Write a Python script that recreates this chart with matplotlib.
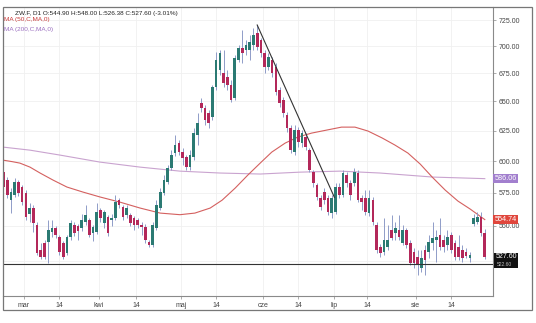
import numpy as np
import pandas as pd
import matplotlib
matplotlib.use("Agg")
import matplotlib.pyplot as plt
from matplotlib.patches import Rectangle
from matplotlib.ticker import FixedLocator, FuncFormatter, NullLocator

# ---- data -------------------------------------------------------------
start_date = "2024-02-22"
holidays = ["2024-03-29", "2024-05-27", "2024-06-19", "2024-07-04"]

opens = [591.2, 584.9, 569.4, 573.3, 583.4, 579.5, 574.8, 558.8, 563.4, 550.6,
         532.4, 537.5, 538.2, 545.5, 548.4, 541.8, 537.5, 530.3, 541.8, 550.6,
         549.9, 548.4, 552.9, 554.3, 544.8, 545.5, 561.8, 552.1, 556.6, 554.3,
         555.8, 569.4, 564.1, 558.1, 558.1, 555.8, 554.3, 550.6, 549.2, 538.2,
         536.0, 548.4, 563.4, 574.8, 583.4, 594.4, 606.5, 614.7, 607.3, 603.2,
         595.2, 603.2, 621.3, 648.6, 644.2, 639.9, 636.5, 662.7, 677.9, 675.2,
         671.6, 664.5, 653.0, 687.1, 698.3, 696.4, 696.4, 701.1, 712.4, 705.8,
         693.6, 680.7, 687.1, 680.7, 660.0, 651.2, 638.2, 627.2, 607.3, 625.5,
         614.7, 619.7, 608.9, 591.2, 581.0, 571.0, 575.6, 571.0, 559.6, 560.3,
         579.5, 573.3, 588.9, 582.6, 582.6, 590.5, 571.0, 571.0, 559.6, 569.4,
         550.6, 534.6, 531.0, 534.6, 546.9, 544.8, 546.9, 537.5, 546.9, 537.5,
         531.0, 527.5, 519.7, 532.4, 531.0, 537.5, 539.6, 543.3, 539.6, 536.0,
         543.3, 537.5, 534.6, 532.4, 531.0, 526.8, 551.4, 552.9, 556.6, 544.9]
highs = [600.8, 587.3, 578.7, 586.6, 584.9, 581.0, 577.1, 567.2, 565.6, 552.9,
         537.5, 539.6, 554.3, 554.3, 549.9, 543.3, 538.9, 543.3, 554.3, 552.9,
         551.4, 558.8, 565.6, 555.8, 550.6, 567.2, 563.4, 561.8, 558.1, 558.8,
         573.3, 571.0, 565.6, 565.6, 559.6, 557.3, 555.8, 552.9, 551.4, 539.6,
         552.9, 569.4, 578.7, 588.9, 596.8, 608.9, 621.3, 617.2, 610.5, 604.9,
         608.9, 627.2, 640.0, 653.0, 646.9, 642.5, 664.5, 694.7, 696.4, 696.4,
         677.9, 668.9, 691.8, 701.1, 715.3, 705.8, 710.5, 717.3, 720.2, 707.7,
         696.4, 693.6, 689.9, 684.4, 662.7, 653.9, 640.8, 629.7, 629.7, 628.0,
         625.5, 623.0, 610.5, 592.8, 582.6, 573.3, 578.7, 573.3, 573.3, 582.6,
         582.6, 592.8, 591.2, 584.9, 594.4, 592.8, 573.3, 577.1, 577.1, 571.8,
         552.9, 536.8, 555.8, 550.6, 558.1, 552.9, 558.1, 550.6, 548.4, 539.6,
         533.9, 532.4, 532.4, 536.0, 543.3, 552.9, 546.9, 555.8, 543.3, 546.9,
         545.5, 539.6, 543.3, 536.0, 533.9, 531.0, 558.8, 560.3, 560.3, 548.0]
lows = [577.1, 571.0, 559.6, 571.8, 572.5, 565.6, 554.3, 552.9, 545.5, 528.9,
        526.0, 526.0, 523.2, 541.8, 541.1, 528.9, 526.0, 528.9, 539.6, 542.6,
        539.6, 546.2, 550.6, 541.8, 538.9, 544.0, 552.9, 548.4, 542.6, 549.9,
        554.3, 563.4, 554.3, 555.8, 549.9, 546.9, 548.4, 543.3, 537.5, 534.6,
        534.6, 546.9, 561.8, 573.3, 581.8, 592.8, 604.0, 604.9, 596.8, 592.8,
        592.8, 600.8, 613.1, 640.8, 629.7, 627.2, 633.9, 660.0, 673.4, 662.7,
        660.0, 649.5, 651.2, 685.3, 684.4, 691.8, 687.1, 696.4, 696.4, 689.9,
        675.2, 677.9, 671.6, 655.6, 645.1, 636.5, 623.8, 606.5, 604.9, 611.4,
        611.4, 608.9, 591.2, 579.5, 569.4, 561.8, 566.4, 558.1, 555.8, 558.8,
        571.0, 571.8, 579.5, 569.4, 580.2, 567.9, 561.8, 558.1, 557.3, 550.6,
        530.3, 527.5, 528.9, 532.4, 539.6, 539.6, 539.6, 536.0, 533.9, 521.8,
        519.7, 515.0, 517.0, 515.0, 526.8, 532.4, 524.0, 532.4, 531.0, 532.4,
        530.3, 525.3, 525.3, 524.0, 526.8, 524.0, 549.9, 551.4, 542.6, 526.38]
closes = [579.5, 573.3, 575.6, 583.4, 574.8, 567.9, 556.6, 563.4, 552.1, 530.3,
          527.5, 527.5, 546.9, 548.4, 543.3, 531.0, 527.5, 541.8, 552.1, 544.8,
          546.2, 554.3, 558.1, 543.3, 549.2, 560.3, 555.8, 560.3, 544.8, 555.8,
          567.9, 565.6, 556.6, 563.4, 552.1, 550.6, 550.6, 549.2, 539.6, 536.0,
          550.6, 565.6, 575.6, 584.9, 594.4, 604.9, 613.1, 607.3, 602.4, 595.2,
          604.9, 623.0, 631.4, 644.2, 633.9, 631.4, 662.7, 687.1, 693.6, 666.2,
          664.5, 651.2, 689.0, 698.3, 693.6, 701.1, 703.9, 710.5, 699.2, 693.6,
          680.7, 689.9, 675.2, 658.2, 648.6, 639.9, 627.2, 608.9, 625.5, 615.5,
          623.0, 611.4, 592.8, 582.6, 571.8, 564.1, 569.4, 560.3, 571.0, 579.5,
          573.3, 590.5, 582.6, 573.3, 591.2, 569.4, 567.9, 560.3, 571.0, 552.9,
          532.4, 530.3, 539.6, 539.6, 541.1, 548.4, 541.8, 546.9, 536.0, 523.2,
          523.2, 521.8, 526.8, 525.3, 538.2, 541.1, 541.8, 534.6, 534.6, 541.8,
          532.4, 527.5, 527.5, 526.8, 528.2, 528.9, 555.8, 556.6, 544.8, 527.6]

# moving averages, sampled along the session axis
ma50_pos = [-0.13, 2.3, 4.4, 7.1, 9.8, 13.3, 17.0, 21.3, 25.9, 31.2, 36.6, 42.0,
            47.3, 51.3, 55.4, 58.6, 62.1, 65.5, 68.8, 71.9, 75.5, 78.9, 82.6,
            86.6, 90.6, 94.2, 97.7, 101.5, 104.9, 108.4, 111.7, 114.9, 118.4,
            121.8, 125.1, 129.0]
ma50_val = [600.8, 599.6, 598.4, 595.2, 590.5, 584.9, 579.5, 575.6, 571.8, 567.9,
            563.4, 559.6, 558.4, 559.6, 563.4, 569.4, 578.7, 588.9, 598.4, 607.3,
            614.7, 619.7, 623.0, 625.5, 628.0, 628.0, 624.7, 618.9, 613.1, 606.5,
            597.6, 587.3, 577.1, 568.7, 562.6, 554.74]
ma200_pos = [-0.13, 7.1, 15.1, 25.9, 36.6, 47.3, 58.0, 68.8, 79.5, 90.2, 100.9,
             115.1, 129.0]
ma200_val = [611.4, 608.9, 604.9, 599.2, 595.2, 592.0, 590.5, 589.7, 591.2, 592.0,
             590.5, 587.3, 586.06]

trend_pos = [68.0, 88.7]
trend_val = [720.2, 571.5]
support_level = 522.60

grid_prices = [525, 550, 575, 600, 625, 650, 675, 700, 725]
price_ticks = [550, 575, 600, 625, 650, 675, 700, 725]
tick_dates = ["2024-03-01", "2024-03-14", "2024-04-01", "2024-04-14",
              "2024-05-01", "2024-05-14", "2024-06-01", "2024-06-14",
              "2024-07-01", "2024-07-14", "2024-08-01", "2024-08-14"]
tick_names = ["mar", "14", "kwi", "14", "maj", "14", "cze", "14",
              "lip", "14", "sie", "14"]

header = "ZW.F, D1 O:544.90 H:548.00 L:526.38 C:527.60 (-3.01%)"
ma50_name = "MA (50,C,MA,0)"
ma200_name = "MA (200,C,MA,0)"

# ---- styling ------------------------------------------------------------
UP = "#2b7a73"
DOWN = "#b3285a"
WICK = "#8f9cc8"
MA50_C = "#d4605f"
MA200_C = "#c9a3cf"
GRID = "#f0f0f0"
AXIS = "#8a8a8a"
TXT = "#444444"
FONT = "Liberation Sans"

plt.rcParams["font.family"] = FONT

n = len(opens)
cal = pd.offsets.CustomBusinessDay(holidays=holidays)
dates = pd.date_range(start_date, periods=n, freq=cal)
xs = np.arange(n)

o = np.array(opens)
h = np.array(highs)
l = np.array(lows)
c = np.array(closes)
up = c >= o

fig = plt.figure(figsize=(5.36, 3.23), dpi=100)
W, H = 536, 323
ax = fig.add_axes([3 / W, (H - 296) / H, 490 / W, 289 / H])

ax.set_yscale("log")
ax.set_ylim(500.7, 737.8)
ax.set_xlim(-0.13, 131.2)

# grid
for p in grid_prices:
    ax.axhline(p, color=GRID, lw=0.6, zorder=0)

tick_pos = []
for d, name in zip(tick_dates, tick_names):
    dd = pd.Timestamp(d)
    k = int(np.searchsorted(dates.values, np.datetime64(dd)))
    if name == "14" and k < n and dates[k] == dd:
        tick_pos.append(float(k))
    else:
        tick_pos.append(k - 0.5)
for p in tick_pos:
    ax.axvline(p, color=GRID, lw=0.6, zorder=0)

# moving averages
ax.plot(ma200_pos, ma200_val, color=MA200_C, lw=0.8, zorder=1)
ax.plot(ma50_pos, ma50_val, color=MA50_C, lw=0.8, zorder=1)

# candles
ax.vlines(xs, l, h, color=WICK, lw=0.7, zorder=2)
body_lo = np.minimum(o, c)
body_hi = np.maximum(o, c)
ax.bar(xs, body_hi - body_lo, bottom=body_lo, width=0.72,
       color=np.where(up, UP, DOWN), edgecolor="none", zorder=3)

# drawn lines
ax.plot(trend_pos, trend_val, color="#333333", lw=0.8, zorder=4)
ax.axhline(support_level, color="#333333", lw=0.8, zorder=4)

# axes
ax.yaxis.tick_right()
ax.yaxis.set_major_locator(FixedLocator(price_ticks))
ax.yaxis.set_minor_locator(NullLocator())
ax.yaxis.set_major_formatter(FuncFormatter(lambda v, _: f"{v:.2f}"))
ax.xaxis.set_major_locator(FixedLocator(tick_pos))
ax.xaxis.set_major_formatter(FuncFormatter(
    lambda v, i: tick_names[i] if i is not None and i < len(tick_names) else ""))
ax.tick_params(axis="both", labelsize=5, colors=TXT, length=2, width=0.5,
               pad=2)
ax.tick_params(axis="both", color=AXIS)
for s in ["left", "top"]:
    ax.spines[s].set_visible(False)
for s in ["right", "bottom"]:
    ax.spines[s].set_color(AXIS)
    ax.spines[s].set_linewidth(0.8)

# value boxes on the price scale
ytr = ax.get_yaxis_transform()
def price_box(val, text, fc, fs=5.2):
    ax.text(1.003, val, text, transform=ytr, ha="left", va="center",
            fontsize=fs, color="white", zorder=6, clip_on=False,
            bbox=dict(boxstyle="square,pad=0.18", fc=fc, ec="none"))

price_box(586.06, "586.06", "#a27fce")
price_box(554.74, "554.74", "#e0463c")

# last price and support level share one black tag
tag_top = 530.6
tag_bot = 519.6
ax.add_patch(Rectangle((1.002, tag_bot), 0.05, tag_top - tag_bot,
                       transform=ytr, fc="#111111", ec="none",
                       clip_on=False, zorder=5))
ax.text(1.006, 527.60, "527.60", transform=ytr, ha="left", va="center",
        fontsize=5.0, color="white", zorder=6, clip_on=False)
ax.text(1.007, support_level - 0.6, f"{support_level:.2f}", transform=ytr,
        ha="left", va="center", fontsize=3.6, color="#bbbbbb", zorder=6,
        clip_on=False)

# legend text
fig.text(15 / W, 1 - 14 / H, header, fontsize=4.6, color="#222222",
         ha="left", va="center")
fig.text(4 / W, 1 - 20 / H, ma50_name, fontsize=4.6, color="#c83a3a",
         ha="left", va="center")
fig.text(4 / W, 1 - 30 / H, ma200_name, fontsize=4.6, color="#9b6fc0",
         ha="left", va="center")

# outer frame
fig.patches.append(Rectangle((3 / W, 13 / H), 529 / W, 303 / H,
                             transform=fig.transFigure, fill=False,
                             ec="#777777", lw=0.9))

fig.savefig("out.png", dpi=100)
